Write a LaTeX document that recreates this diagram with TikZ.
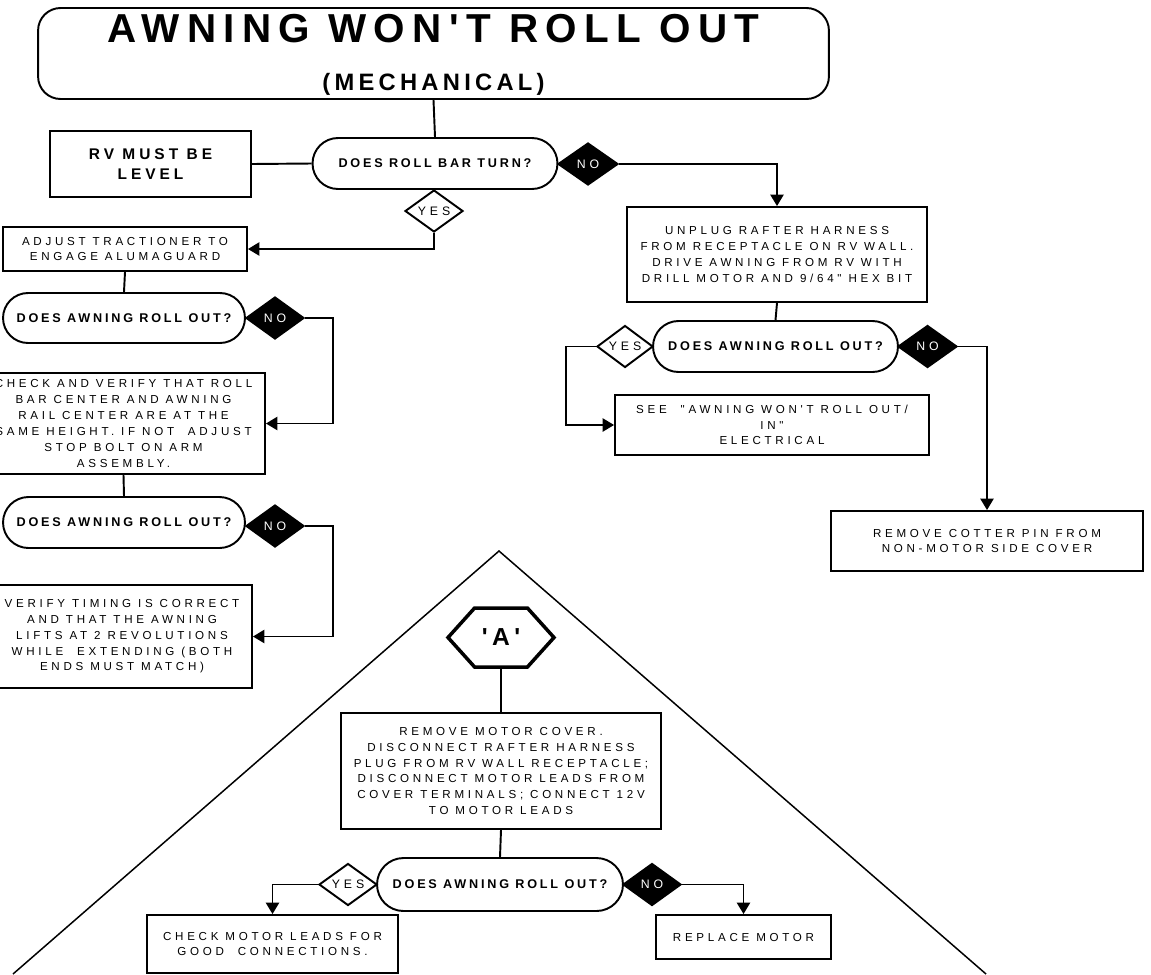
\documentclass[tikz,border=0pt]{standalone}
\usepackage{fontspec}
\usetikzlibrary{shapes.geometric,shapes.misc,shapes.symbols,arrows.meta}
\newfontfamily\boxfont[LetterSpace=32,Ligatures=TeXOff]{Liberation Sans}
\newfontfamily\askfont[LetterSpace=22,Ligatures=TeXOff]{Liberation Sans}
\newfontfamily\headfont[LetterSpace=18,Ligatures=TeXOff]{Liberation Sans}
\newfontfamily\levelfont[LetterSpace=26,Ligatures=TeXOff]{Liberation Sans}

\begin{document}
\begin{tikzpicture}[x=0.02cm,y=-0.02cm,line width=1.1pt,
    box/.style={draw,rectangle,inner sep=0pt,align=center,font=\boxfont\fontsize{6.6}{9}\selectfont},
    ask/.style={draw,rounded rectangle,inner sep=0pt,minimum width=4.9cm,minimum height=1.02cm,font=\askfont\bfseries\fontsize{7.2}{9}\selectfont},
    yes/.style={draw,diamond,aspect=1.4,inner sep=0pt,minimum width=1.16cm,minimum height=0.84cm,font=\boxfont\fontsize{7}{9}\selectfont},
    no/.style={yes,fill=black,text=white},
    go/.style={-{Triangle[length=6.5pt,width=7.5pt]}}]

\useasboundingbox (0,0) rectangle (1151,974);

% the big triangle behind 'A'
\coordinate (apex) at (499,551);
\coordinate (leftfoot) at (13,974);
\coordinate (rightfoot) at (986,974);
\draw[line width=0.85pt] (leftfoot) -- (apex) -- (rightfoot);

\node[draw,rectangle,rounded corners=0.45cm,minimum width=15.82cm,minimum height=1.82cm] (title) at (433.5,53.5) {};
\node[anchor=base,font=\headfont\bfseries\fontsize{23}{23}\selectfont] (titletop) at (433.5,42) {AWNING WON'T ROLL OUT};
\node[anchor=base,font=\headfont\bfseries\fontsize{13.5}{13.5}\selectfont] (titlesub) at (433.5,90) {(MECHANICAL)};

\node[box,minimum width=4.02cm,minimum height=1.32cm,font=\levelfont\bfseries\fontsize{8.8}{11.4}\selectfont] (rvlevel) at (150.5,164) {RV MUST BE\\LEVEL};
\node[ask] (q1) at (435,163.5) {DOES ROLL BAR TURN?};
\node[no,minimum width=1.2cm] (q1no) at (588,164) {NO};
\node[yes] (q1yes) at (434,211) {YES};

\node[box,minimum width=4.88cm,minimum height=0.88cm] (adjust) at (125,249) {ADJUST TRACTIONER TO\\ENGAGE ALUMAGUARD};
\node[ask,minimum width=4.84cm,minimum height=1cm] (q2) at (124,318) {DOES AWNING ROLL OUT?};
\node[no] (q2no) at (275,318) {NO};
\node[box,minimum width=5.66cm,minimum height=2.02cm] (check) at (123.5,423.5) {CHECK AND VERIFY THAT ROLL\\BAR CENTER AND AWNING\\RAIL CENTER ARE AT THE\\SAME HEIGHT. IF NOT\ \ ADJUST\\STOP BOLT ON ARM\\ASSEMBLY.};
\node[ask,minimum width=4.84cm] (q3) at (124,522.5) {DOES AWNING ROLL OUT?};
\node[no] (q3no) at (275,526) {NO};
\node[box,minimum width=5.2cm,minimum height=2.06cm] (verify) at (122,636.5) {VERIFY TIMING IS CORRECT\\AND THAT THE AWNING\\LIFTS AT 2 REVOLUTIONS\\WHILE\ \ EXTENDING (BOTH\\ENDS MUST MATCH)};

\node[box,minimum width=6cm,minimum height=1.9cm] (unplug) at (777,254.5) {UNPLUG RAFTER HARNESS\\FROM RECEPTACLE ON RV WALL.\\DRIVE AWNING FROM RV WITH\\DRILL MOTOR AND 9/64" HEX BIT};
\node[ask] (q4) at (775.5,346.5) {DOES AWNING ROLL OUT?};
\node[yes,minimum width=1.12cm] (q4yes) at (625,346.5) {YES};
\node[no,minimum width=1.18cm] (q4no) at (927.5,346.5) {NO};
\node[box,minimum width=6.28cm,minimum height=1.2cm] (see) at (772,425) {SEE\ \ "AWNING WON'T ROLL OUT/\\IN"\\ELECTRICAL};
\node[box,minimum width=6.24cm,minimum height=1.2cm] (cotter) at (987,541) {REMOVE COTTER PIN FROM\\NON-MOTOR SIDE COVER};

\node[draw,signal,signal to=west and east,signal pointer angle=96,line width=2pt,inner sep=0pt,minimum width=2.12cm,minimum height=1.18cm,font=\headfont\bfseries\fontsize{14}{14}\selectfont] (hexA) at (501,637.5) {'A'};
\node[box,minimum width=6.4cm,minimum height=2.32cm] (motor) at (501,771) {REMOVE MOTOR COVER.\\DISCONNECT RAFTER HARNESS\\PLUG FROM RV WALL RECEPTACLE;\\DISCONNECT MOTOR LEADS FROM\\COVER TERMINALS; CONNECT 12V\\TO MOTOR LEADS};
\node[ask,minimum width=4.92cm,minimum height=1.06cm] (q5) at (500,884.5) {DOES AWNING ROLL OUT?};
\node[yes] (q5yes) at (348,884.5) {YES};
\node[no] (q5no) at (652,884.5) {NO};
\node[box,minimum width=5.02cm,minimum height=1.16cm] (leads) at (272.5,944) {CHECK MOTOR LEADS FOR\\GOOD\ \ CONNECTIONS.};
\node[box,minimum width=3.5cm,minimum height=0.88cm] (replace) at (743.5,937) {REPLACE MOTOR};

\draw (title.south) -- (q1.north);
\draw (rvlevel.east) -- (q1.west);
\draw[go] (q1no.east) -| (unplug.north);
\draw[go] (q1yes.south) |- (adjust.east);
\draw (adjust.south) -- (q2.north);
\draw[go] (q2no.east) -- ++(28,0) |- (check.east);
\draw (check.south) -- (q3.north);
\draw[go] (q3no.east) -- ++(28,0) |- (verify.east);

\draw (unplug.south) -- (q4.north);
\draw[go] (q4yes.west) -- ++(-30,0) |- (see.west);
\draw[go] (q4no.east) -| (cotter.north);

\draw (hexA.south) -- (motor.north);
\draw (motor.south) -- (q5.north);
\draw[go] (q5yes.west) -| (leads.north);
\draw[go] (q5no.east) -| (replace.north);

\end{tikzpicture}
\end{document}
